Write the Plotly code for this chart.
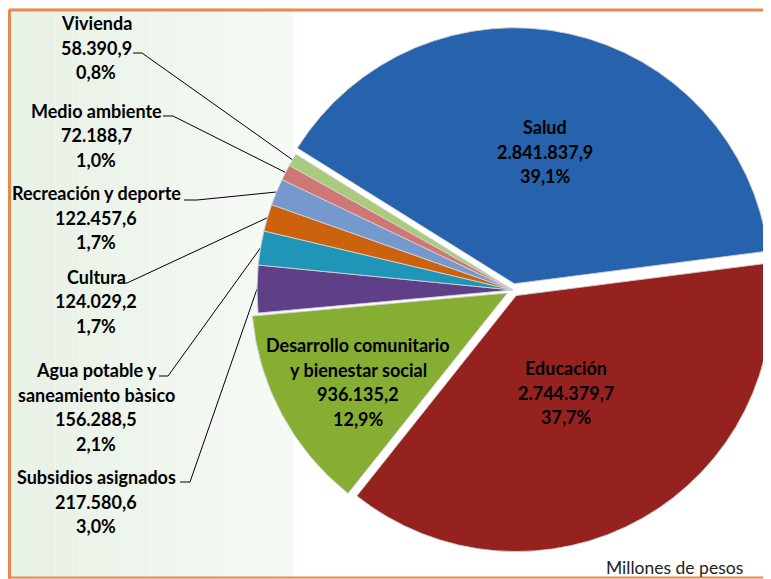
import math
import plotly.graph_objects as go

W, H = 771, 579
OFF = 8                  # margen del body de la pagina
FW, FH = W - OFF + 40, H - OFF   # la figura sobresale a la derecha (pie recortado)

# datos (millones de pesos)
sectores = ["Salud", "Educación", "Desarrollo comunitario y bienestar social",
            "Subsidios asignados", "Agua potable y saneamiento bàsico", "Cultura",
            "Recreación y deporte", "Medio ambiente", "Vivienda"]
valores = [2841837.9, 2744379.7, 936135.2, 217580.6, 156288.5,
           124029.2, 122457.6, 72188.7, 58390.9]
valores_txt = ["2.841.837,9", "2.744.379,7", "936.135,2", "217.580,6", "156.288,5",
               "124.029,2", "122.457,6", "72.188,7", "58.390,9"]
porcentajes = ["39,1%", "37,7%", "12,9%", "3,0%", "2,1%", "1,7%", "1,7%", "1,0%", "0,8%"]
nombres_lineas = [["Salud"], ["Educación"], ["Desarrollo comunitario", "y bienestar social"],
                  ["Subsidios asignados"], ["Agua potable y", "saneamiento bàsico"],
                  ["Cultura"], ["Recreación y deporte"], ["Medio ambiente"], ["Vivienda"]]

colores = ["#2762AC", "#962220", "#86AE32", "#5F4088", "#1F95B8",
           "#CC620D", "#7699CD", "#CF7775", "#AACB7E"]
pull = [0.025, 0.025, 0.025, 0, 0, 0, 0, 0, 0]

# posicion de etiquetas: (x centro, y primera linea), en pixeles de la pagina
pos_etiquetas = [(545, 127), (566, 368), (358, 345), (96, 477), (96, 370),
                 (96, 277), (96, 193), (96, 111), (96, 23)]
# guias: (y, x inicio, x fin) del tramo horizontal, None si no lleva
guias = [None, None, None, (482, 180, 190), (376, 159, 168),
         (283, 118, 127), (200, 184, 197), (116, 163, 173), (53, 133, 142)]

rotacion = -58
centro = (513, 290)
radio = 256


def px(x):
    return (x - OFF) / FW


def py(y):
    return 1 - (y - OFF) / FH


caja = radio * (2 + 2 * max(pull))
dom_x = [px(centro[0] - caja / 2), px(centro[0] + caja / 2)]
dom_y = [max(0, py(centro[1] + caja / 2)), py(centro[1] - caja / 2)]

# geometria del pie (igual que plotly)
box_w = FW * (dom_x[1] - dom_x[0])
box_h = FH * (dom_y[1] - dom_y[0])
r = min(box_w, box_h) / (2 + 2 * max(pull))
cx = OFF + FW * (dom_x[0] + dom_x[1]) / 2
cy = OFF + FH * (1 - dom_y[0]) - box_h / 2

fig = go.Figure()

fig.add_trace(go.Pie(
    labels=sectores, values=valores, sort=False, direction="clockwise",
    rotation=rotacion, pull=pull, textinfo="none", showlegend=False,
    marker=dict(colors=colores, line=dict(color="rgba(210,210,210,0.9)", width=1)),
    domain=dict(x=dom_x, y=dom_y),
))

total = sum(valores)
acum = 0
for i, v in enumerate(valores):
    ang = math.radians(rotacion + 360 * (acum + v / 2) / total)
    acum += v
    if guias[i] is None:
        continue
    gy, gx0, gx1 = guias[i]
    ex = cx + r * math.sin(ang)
    ey = cy - r * math.cos(ang)
    fig.add_trace(go.Scatter(x=[gx0, gx1, ex], y=[gy, gy, ey], mode="lines",
                             line=dict(color="black", width=1), hoverinfo="skip",
                             showlegend=False))

fuente = dict(family="Lato", size=18, color="black")
paso = 24.5
for i in range(len(sectores)):
    lineas = nombres_lineas[i] + [valores_txt[i], porcentajes[i]]
    x0, y0 = pos_etiquetas[i]
    for k, t in enumerate(lineas):
        fig.add_annotation(x=px(x0), y=py(y0 + k * paso), xref="paper", yref="paper",
                           text="<b>" + t + "</b>", showarrow=False, font=fuente,
                           xanchor="center", yanchor="middle")

fig.add_annotation(x=px(745), y=py(567), xref="paper", yref="paper",
                   text="Millones de pesos", showarrow=False,
                   font=dict(family="Lato", size=17.5, color="#222222"),
                   xanchor="right", yanchor="middle")

# fondo del panel izquierdo y marco
shapes = []
n = 12
for k in range(n):
    f = k / (n - 1)
    c = (int(233 + 13 * f), int(242 + 8 * f), int(231 + 14 * f))
    shapes.append(dict(type="rect", xref="paper", yref="paper", layer="below",
                       x0=px(OFF + k * (293 - OFF) / n), x1=px(OFF + (k + 1) * (293 - OFF) / n),
                       y0=0, y1=1, fillcolor="rgb(%d,%d,%d)" % c, line=dict(width=0)))
naranja = "#E9874F"
shapes.append(dict(type="line", xref="paper", yref="paper", x0=px(9), x1=1,
                   y0=py(10), y1=py(10), line=dict(color=naranja, width=3)))
shapes.append(dict(type="line", xref="paper", yref="paper", x0=px(9.5), x1=px(9.5),
                   y0=py(10), y1=0, line=dict(color=naranja, width=3)))
shapes.append(dict(type="line", xref="paper", yref="paper", x0=px(9), x1=1,
                   y0=py(577.5), y1=py(577.5), line=dict(color=naranja, width=2)))

fig.update_layout(
    width=FW, height=FH, margin=dict(l=0, r=0, t=0, b=0),
    paper_bgcolor="white", plot_bgcolor="rgba(0,0,0,0)",
    xaxis=dict(range=[OFF, OFF + FW], visible=False, fixedrange=True),
    yaxis=dict(range=[OFF + FH, OFF], visible=False, fixedrange=True),
    shapes=shapes,
)

fig.write_html("out.html")
